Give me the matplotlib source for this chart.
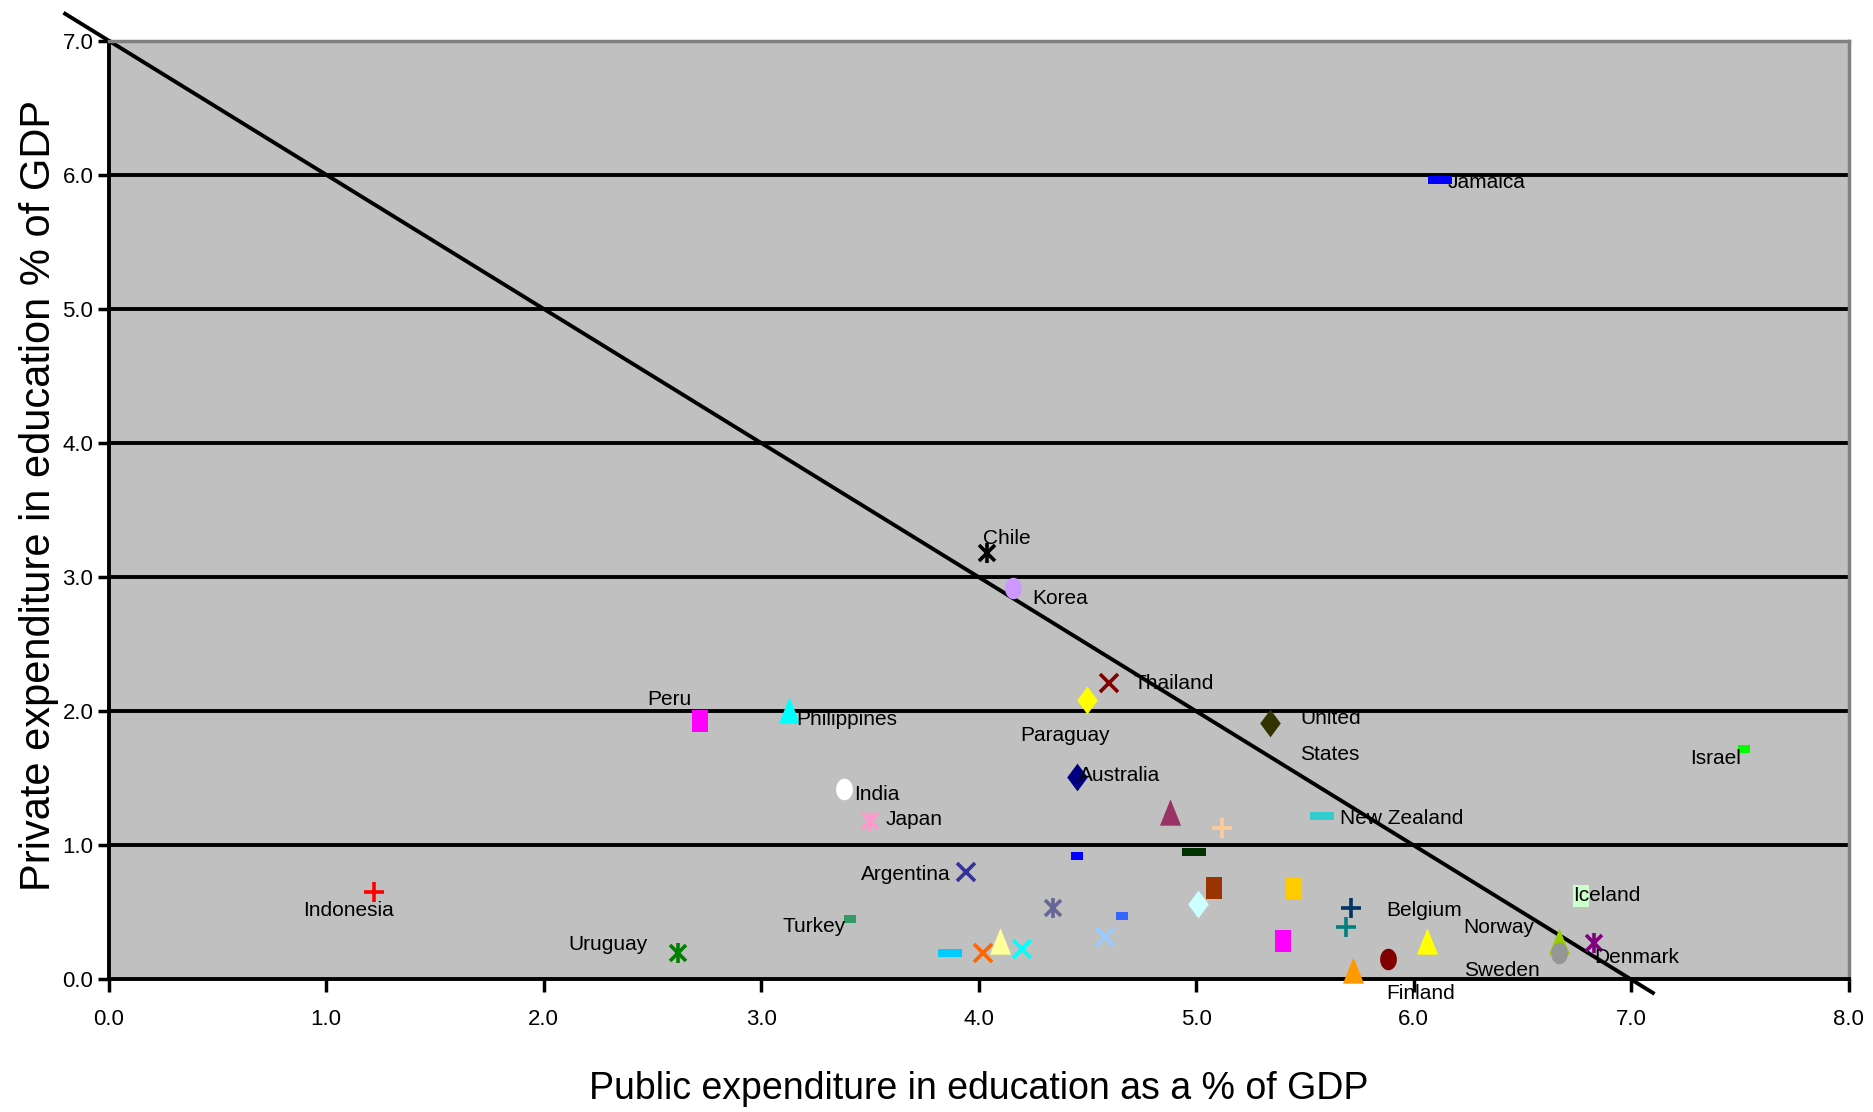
"""Public vs private expenditure on education, % of GDP."""

import numpy as np
import matplotlib
matplotlib.use('Agg')
import matplotlib.pyplot as plt
from matplotlib.path import Path

# ---- data -------------------------------------------------------------
countries = ['Jamaica', 'Chile', 'Korea', 'Thailand', 'Paraguay', 'United States',
             'Peru', 'Philippines', 'Israel', 'Australia', 'India', 'Japan',
             '', '', 'New Zealand', '', '', 'Argentina', 'Indonesia', '', '',
             'Iceland', '', 'Belgium', '', '', 'Turkey', '', '', '', '',
             'Uruguay', '', '', '', '', '', 'Denmark', 'Sweden', 'Finland', 'Norway']
public = [6.12, 4.04, 4.16, 4.60, 4.50, 5.34,
          2.72, 3.13, 7.52, 4.45, 3.38, 3.50,
          4.88, 5.12, 5.58, 4.99, 4.45, 3.94, 1.22, 5.08, 5.45,
          6.77, 5.01, 5.71, 4.34, 4.66, 3.41, 5.69, 5.40, 4.58, 4.10,
          2.62, 3.87, 4.02, 4.20, 6.67, 6.67, 6.83, 5.88, 5.72, 6.06]
private = [5.96, 3.18, 2.92, 2.21, 2.08, 1.91,
           1.93, 2.01, 1.72, 1.51, 1.42, 1.18,
           1.25, 1.13, 1.22, 0.95, 0.92, 0.80, 0.65, 0.68, 0.68,
           0.62, 0.56, 0.53, 0.53, 0.47, 0.45, 0.39, 0.29, 0.32, 0.29,
           0.20, 0.20, 0.20, 0.23, 0.29, 0.20, 0.27, 0.15, 0.07, 0.29]

x_ticks = [0, 1, 2, 3, 4, 5, 6, 7, 8]
y_ticks = [0, 1, 2, 3, 4, 5, 6, 7]

# ---- styling ----------------------------------------------------------
def poly(pts):
    return Path(pts + [pts[0]], closed=True)

t = np.linspace(0, 2 * np.pi, 40)
SHAPES = {
    'sq':    (poly([(-0.39, -0.5), (0.39, -0.5), (0.39, 0.5), (-0.39, 0.5)]), 15.5),
    'dash':  (poly([(-0.5, -0.17), (0.5, -0.17), (0.5, 0.17), (-0.5, 0.17)]), 17),
    'sdash': (poly([(-0.5, -0.3), (0.5, -0.3), (0.5, 0.3), (-0.5, 0.3)]), 9),
    'tri':   (poly([(0, 0.5), (-0.4, -0.5), (0.4, -0.5)]), 19),
    'dia':   (poly([(0, 0.5), (0.37, 0), (0, -0.5), (-0.37, 0)]), 20),
    'circ':  (Path(np.column_stack([0.39 * np.cos(t), 0.5 * np.sin(t)]), closed=True), 15.5),
}

styles = [('dash', '#0000FF'), ('star', '#000000'), ('circ', '#CC99FF'), ('x', '#800000'),
          ('dia', '#FFFF00'), ('dia', '#333300'), ('sq', '#FF00FF'), ('tri', '#00FFFF'),
          ('sdash', '#00FF00'), ('dia', '#000080'), ('circ', '#FFFFFF'), ('star', '#FF99CC'),
          ('tri', '#993366'), ('+', '#FFCC99'), ('dash', '#33CCCC'), ('dash', '#003300'),
          ('sdash', '#0000FF'), ('x', '#333399'), ('+', '#FF0000'), ('sq', '#993300'),
          ('sq', '#FFCC00'), ('sq', '#CCFFCC'), ('dia', '#CCFFFF'), ('+', '#003366'),
          ('star', '#666699'), ('sdash', '#3366FF'), ('sdash', '#339966'), ('+', '#008080'),
          ('sq', '#FF00FF'), ('x', '#99CCFF'), ('tri', '#FFFF99'), ('star', '#008000'),
          ('dash', '#00CCFF'), ('x', '#FF6600'), ('x', '#00FFFF'), ('tri', '#99CC00'),
          ('circ', '#969696'), ('star', '#800080'), ('circ', '#800000'), ('tri', '#FF9900'),
          ('tri', '#FFFF00')]

# label offsets from the marker (reference pixels, +x right, +y down)
label_offsets = {
    'Jamaica': (7, 2), 'Chile': (-4, -12), 'Korea': (16, 9), 'Thailand': (20, 0),
    'Paraguay': (-56, 29), 'United States': (25, 11), 'Peru': (-44, -18),
    'Philippines': (6, 8), 'Israel': (-45, 8), 'Australia': (2, -1), 'India': (9, 5),
    'Japan': (13, -1), 'New Zealand': (15, 2), 'Argentina': (-88, 2),
    'Indonesia': (-59, 15), 'Iceland': (-7, -1), 'Belgium': (30, 2), 'Turkey': (-57, 6),
    'Norway': (31, -11), 'Uruguay': (-92, -7), 'Denmark': (0, 12), 'Sweden': (64, 9),
    'Finland': (28, 20),
}
PX = 1873 / 1568  # reference preview px -> output px

LABEL_FONT = ['Liberation Sans Narrow', 'Liberation Sans', 'DejaVu Sans']
plt.rcParams['font.family'] = ['Liberation Sans', 'DejaVu Sans']

fig = plt.figure(figsize=(18.73, 11.12), dpi=100)
fig.patch.set_facecolor('white')
ax = fig.add_axes([0.058, 0.1192, 0.929, 0.8443])
ax.set_facecolor('#C0C0C0')

for yv in y_ticks[1:-1]:
    ax.axhline(yv, color='black', linewidth=2.8, zorder=1)

# reference line: public + private = 7
ax.plot([-0.2, 7.1], [7.2, -0.1], color='black', linewidth=2.8, clip_on=False, zorder=2)

for xi, yi, (shape, col) in zip(public, private, styles):
    if shape in SHAPES:
        path, ms = SHAPES[shape]
        ax.plot(xi, yi, marker=path, markersize=ms, color=col, markeredgewidth=0,
                linestyle='none', zorder=4, clip_on=False)
    elif shape == 'star':
        ax.plot(xi, yi, marker='x', markersize=12, color=col, markeredgewidth=2.6,
                linestyle='none', zorder=4)
        ax.plot(xi, yi, marker='|', markersize=15, color=col, markeredgewidth=2.6,
                linestyle='none', zorder=4)
    else:
        ax.plot(xi, yi, marker=shape, markersize=13 if shape == 'x' else 15, color=col,
                markeredgewidth=2.6, linestyle='none', zorder=4)

for name, xi, yi in zip(countries, public, private):
    if not name:
        continue
    dx, dy = label_offsets[name]
    txt = 'United\n\nStates' if name == 'United States' else name
    ax.annotate(txt, (xi, yi), xytext=(dx * PX, -dy * PX), textcoords='offset pixels',
                ha='left', va='center', fontsize=15, family=LABEL_FONT, color='black',
                zorder=5, linespacing=0.95)

ax.set_xlim(0, 8)
ax.set_ylim(0, 7)
ax.set_xticks(x_ticks)
ax.set_yticks(y_ticks)
ax.set_xticklabels([f'{v:.1f}' for v in x_ticks], family=LABEL_FONT, fontsize=16)
ax.set_yticklabels([f'{v:.1f}' for v in y_ticks], family=LABEL_FONT, fontsize=16)
ax.tick_params(axis='x', direction='out', length=9, width=2.5, pad=12, color='black')
ax.tick_params(axis='y', direction='out', length=8, width=2.5, pad=3, color='black')

for s in ('left', 'bottom'):
    ax.spines[s].set_color('black')
    ax.spines[s].set_linewidth(2.8)
for s in ('top', 'right'):
    ax.spines[s].set_color('#808080')
    ax.spines[s].set_linewidth(2.5)

ax.set_xlabel('Public expenditure in education as a % of GDP', fontsize=27, labelpad=30)
ax.set_ylabel('Private expenditure in education % of GDP', fontsize=30, va='center')
ax.yaxis.set_label_coords(-0.04, 0.515)

fig.savefig('out.png', dpi=100, facecolor='white')
plt.close(fig)
